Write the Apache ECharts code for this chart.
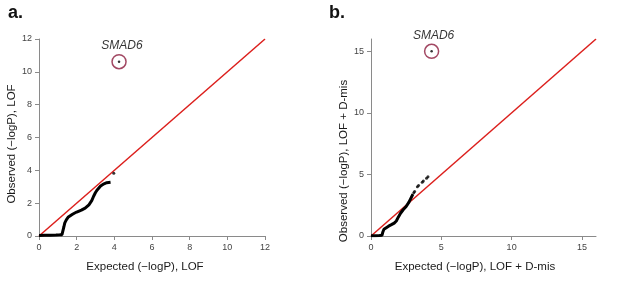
<!DOCTYPE html>
<html><head><meta charset="utf-8">
<script src="https://cdn.jsdelivr.net/npm/echarts@6/dist/echarts.min.js"></script>
<style>html,body{margin:0;padding:0;background:#fff}#c{width:617px;height:284px}</style>
</head><body><div id="c"></div>
<script>
// Panel a: LOF
const curveA = [[0,0.03],[0.3,0.04],[0.6,0.05],[0.9,0.06],[1.1,0.07],[1.22,0.08],[1.28,0.2],[1.32,0.55],[1.37,0.8],[1.45,0.98],[1.56,1.16],[1.8,1.34],[2.0,1.46],[2.25,1.58],[2.45,1.7],[2.65,1.9],[2.8,2.15],[2.9,2.42],[3.0,2.65],[3.1,2.82],[3.27,3.05],[3.45,3.18],[3.6,3.25],[3.8,3.28]];
const extraA = [[3.97,3.82]];
const smadA = [[4.25,10.62]];
const ticksA = [0,2,4,6,8,10,12];
// Panel b: LOF + D-mis
const curveB = [[0,0.02],[0.3,0.03],[0.6,0.04],[0.78,0.06],[0.85,0.35],[0.92,0.55],[1.05,0.68],[1.25,0.8],[1.45,0.92],[1.65,1.05],[1.8,1.22],[1.95,1.55],[2.1,1.85],[2.3,2.15],[2.5,2.4],[2.7,2.75],[2.85,3.1],[2.98,3.4]];
const extraB = [[3.04,3.52],[3.1,3.62],[3.3,4.0],[3.38,4.1],[3.64,4.36],[3.72,4.46],[3.95,4.7],[4.05,4.82]];
const smadB = [[4.31,15.0]];
const ticksB = [0,5,10,15];
const geneLabel = 'SMAD6';

function ax(i,max,ticks){
  return {type:'value',gridIndex:i,min:0,max:max,
    axisLine:{show:true,lineStyle:{color:'#8a8a8a',width:1}},
    axisTick:{show:true,length:4,lineStyle:{color:'#8a8a8a'},customValues:ticks},
    axisLabel:{color:'#444',fontSize:9,margin:7,fontFamily:'Liberation Sans',customValues:ticks},
    splitLine:{show:false}};
}

function panelSeries(i,maxv,curve,extra,smad,labelOffset){
  return [
    {type:'line',xAxisIndex:i,yAxisIndex:i,data:[[0,0],[maxv,maxv]],symbol:'none',lineStyle:{color:'#dc1f1c',width:1.5},silent:true,z:2},
    {type:'line',xAxisIndex:i,yAxisIndex:i,data:curve,symbol:'none',lineStyle:{color:'#000',width:3},z:3},
    {type:'scatter',xAxisIndex:i,yAxisIndex:i,data:extra,symbol:'circle',symbolSize:3,itemStyle:{color:'#000'},z:3},
    {type:'scatter',xAxisIndex:i,yAxisIndex:i,data:smad,symbol:'circle',symbolSize:14,
      itemStyle:{color:'rgba(0,0,0,0)',borderColor:'#8b1a3c',borderWidth:1.5},
      label:{show:true,position:'top',distance:2,offset:labelOffset,formatter:geneLabel,fontStyle:'italic',fontSize:12,color:'#000',fontFamily:'Liberation Sans'},z:4},
    {type:'scatter',xAxisIndex:i,yAxisIndex:i,data:smad,symbol:'circle',symbolSize:2.5,itemStyle:{color:'#000'},z:5}
  ];
}

const chart = echarts.init(document.getElementById('c'),null,{renderer:'canvas'});
chart.setOption({
  animation:false,
  backgroundColor:'#fff',
  grid:[
    {left:39,top:39,width:226,height:197},
    {left:371,top:39,width:225,height:197}
  ],
  xAxis:[ax(0,12,ticksA),ax(1,16,ticksB)],
  yAxis:[ax(0,12,ticksA),ax(1,16,ticksB)],
  series:[].concat(panelSeries(0,12,curveA,extraA,smadA,[3,0]),panelSeries(1,16,curveB,extraB,smadB,[2,0])),
  graphic:[
    {type:'text',left:8,top:4,style:{text:'a.',font:'bold 18px "Liberation Sans"',fill:'#111'}},
    {type:'text',left:329,top:4,style:{text:'b.',font:'bold 18px "Liberation Sans"',fill:'#111'}},
    {type:'text',x:145,y:267,style:{text:'Expected (\u2212logP), LOF',font:'11.5px "Liberation Sans"',fill:'#1a1a1a',align:'center',verticalAlign:'middle'}},
    {type:'text',x:12,y:144,rotation:Math.PI/2,style:{text:'Observed (\u2212logP), LOF',font:'11.5px "Liberation Sans"',fill:'#1a1a1a',align:'center',verticalAlign:'middle'}},
    {type:'text',x:475,y:267,style:{text:'Expected (\u2212logP), LOF + D-mis',font:'11.5px "Liberation Sans"',fill:'#1a1a1a',align:'center',verticalAlign:'middle'}},
    {type:'text',x:344,y:161,rotation:Math.PI/2,style:{text:'Observed (\u2212logP), LOF + D-mis',font:'11.5px "Liberation Sans"',fill:'#1a1a1a',align:'center',verticalAlign:'middle'}}
  ]
});
</script></body></html>
